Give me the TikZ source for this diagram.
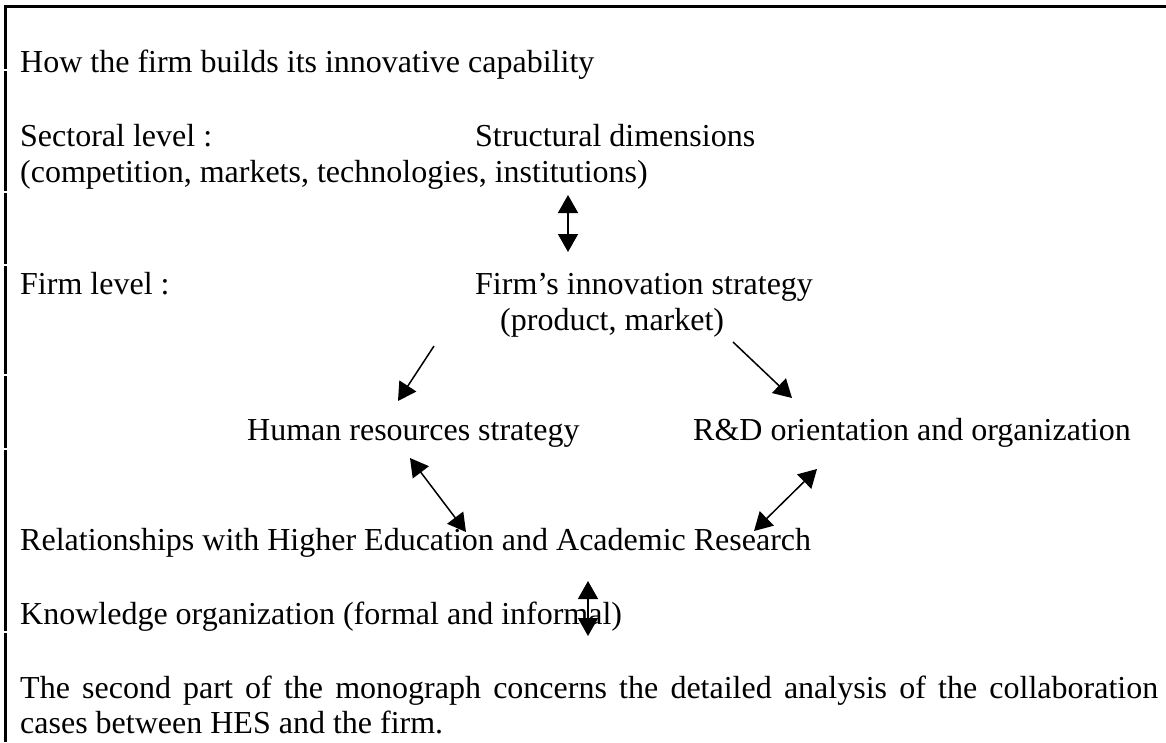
\documentclass[tikz,border=0pt]{standalone}
\usepackage{fontspec}
\setmainfont{Liberation Serif}
\usetikzlibrary{arrows.meta}
\begin{document}
\begin{tikzpicture}[x=1pt,y=-1pt,
  txt/.style={anchor=base west,inner sep=0pt,font=\fontsize{32}{36}\selectfont},
  link/.style={line width=1.5pt,-{Triangle[length=18pt,width=20pt]}},
  dlink/.style={line width=1.5pt,{Triangle[length=18pt,width=20pt]}-{Triangle[length=18pt,width=20pt]}},
  frame/.style={line width=3pt}]
\useasboundingbox[fill=white] (0,0) rectangle (1166,742);

% frame: rule along the top, broken bar down the left side
\draw[frame] (3.5,6) -- (1166,6);
\foreach \a/\b in {6/69,71/191,193/264,266/374,376/448,450/631,633/742}
  \draw[frame] (5,\a) -- (5,\b);

% texts
\node[txt] (title) at (20,72) {How the firm builds its innovative capability};
\node[txt] (sect)  at (20,146) {Sectoral level :};
\node[txt] (struct) at (475,146) {Structural dimensions};
\node[txt] (comp)  at (20,182) {(competition, markets, technologies, institutions)};
\node[txt] (firmlv) at (20,294) {Firm level :};
\node[txt] (strat) at (475,294) {Firm’s innovation strategy};
\node[txt] (prod)  at (500,330) {(product, market)};
\node[txt] (hr)    at (247,440) {Human resources strategy};
\node[txt] (rd)    at (693,440) {R\&D orientation and organization};
\node[txt] (rel)   at (20,550) {Relationships with Higher Education and Academic Research};
\node[txt] (know)  at (20,624) {Knowledge organization (formal and informal)};
\node[txt] (par1)  at (20,698) {\makebox[1138pt][s]{The second part of the monograph concerns the detailed analysis of the collaboration}};
\node[txt] (par2)  at (20,733) {cases between HES and the firm.};

% connector end points
\coordinate (a1t) at (568,195);  \coordinate (a1b) at (568,252);
\coordinate (dlS) at (434,346);  \coordinate (dlE) at (398,401);
\coordinate (drS) at (733,342);  \coordinate (drE) at (792,398);
\coordinate (hrA) at (410,458);  \coordinate (relA) at (466,532);
\coordinate (rdA) at (817,469);  \coordinate (relB) at (754,531);
\coordinate (a2t) at (588,581);  \coordinate (a2b) at (588,636);

% connectors
\draw[dlink] (a1t) -- (a1b);
\draw[link]  (dlS) -- (dlE);
\draw[link]  (drS) -- (drE);
\draw[dlink] (hrA) -- (relA);
\draw[dlink] (rdA) -- (relB);
\draw[dlink] (a2t) -- (a2b);
\end{tikzpicture}
\end{document}
